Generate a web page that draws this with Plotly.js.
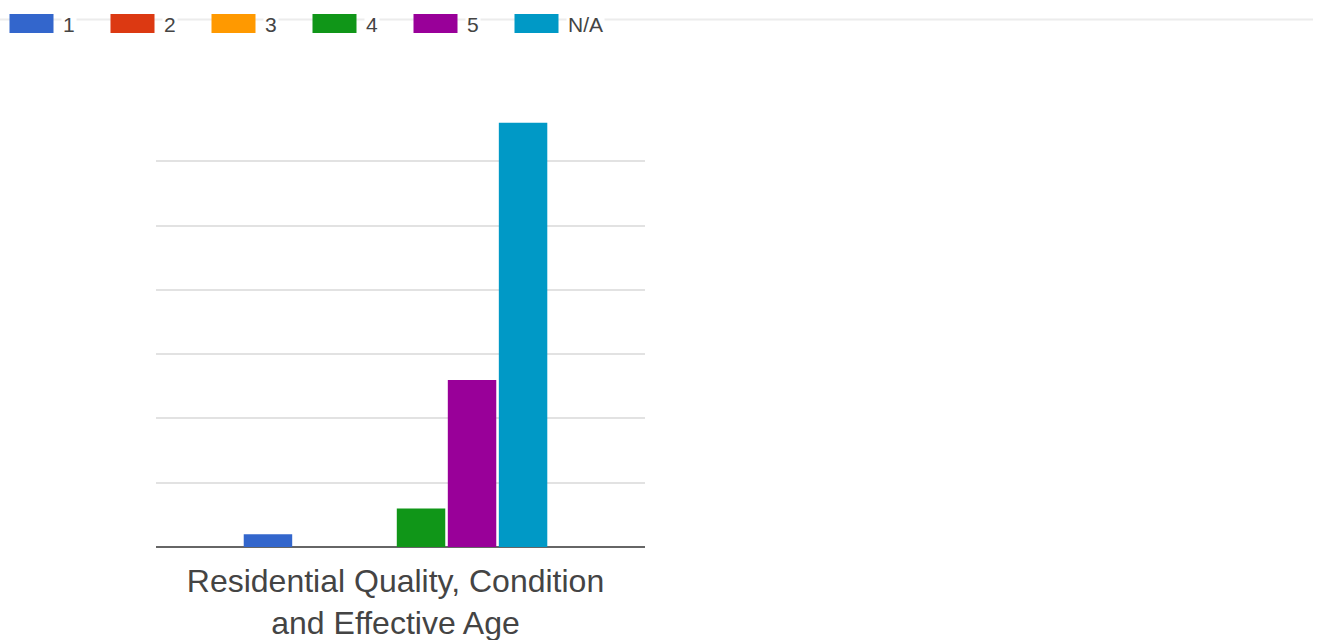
<!DOCTYPE html>
<html>
<head>
<meta charset="utf-8">
<script src="https://cdn.plot.ly/plotly-3.0.1.min.js"></script>
<style>html,body{margin:0;padding:0;background:#fff;}#chart{width:1324px;height:640px;}</style>
</head>
<body>
<div id="chart"></div>
<script>
// Data
const categories = ["Residential Quality, Condition<br>and Effective Age"];
const seriesNames = ["1", "2", "3", "4", "5", "N/A"];
const seriesValues = [[1], [0], [0], [3], [13], [33]];
const seriesColors = ["#3366cc", "#dc3912", "#ff9900", "#109618", "#990099", "#0099c6"];

const W = 1324, H = 640;
const M = {l: 156, r: 679, t: 110, b: 93};
const PW = W - M.l - M.r, PH = H - M.t - M.b;
const px = x => (x - M.l) / PW;
const py = y => (H - M.b - y) / PH;

const traces = seriesNames.map((n, i) => ({
  type: 'bar', name: n, x: categories, y: seriesValues[i],
  marker: {color: seriesColors[i], line: {width: 0}},
  hoverinfo: 'name+y'
}));

const shapes = [{
  type: 'line', xref: 'paper', yref: 'paper',
  x0: px(0), x1: px(1313), y0: py(19.5), y1: py(19.5),
  line: {color: '#ececec', width: 2}, layer: 'below'
}];
const annotations = [];
seriesNames.forEach((n, i) => {
  const x0 = 9.5 + 101 * i;
  shapes.push({
    type: 'rect', xref: 'paper', yref: 'paper',
    x0: px(x0), x1: px(x0 + 44), y0: py(33), y1: py(14),
    fillcolor: seriesColors[i], line: {width: 0}, layer: 'above'
  });
  annotations.push({
    xref: 'paper', yref: 'paper', x: px(x0 + 51), y: py(24.5),
    xanchor: 'left', yanchor: 'middle', text: n, showarrow: false,
    bgcolor: '#ffffff', borderpad: 1,
    font: {family: 'Liberation Sans, Arial, sans-serif', size: 21, color: '#444444'}
  });
});

const layout = {
  width: W, height: H,
  margin: M,
  paper_bgcolor: '#ffffff', plot_bgcolor: '#ffffff',
  showlegend: false,
  barmode: 'group', bargap: 0.374, bargroupgap: 0.05,
  font: {family: 'Liberation Sans, Arial, sans-serif', color: '#444444'},
  xaxis: {
    type: 'category', range: [-0.4898, 0.5102], showgrid: false, zeroline: false,
    showline: false, ticks: '', fixedrange: true, ticklabelstandoff: 12,
    tickfont: {family: 'Liberation Sans, Arial, sans-serif', size: 32, color: '#444444'}
  },
  yaxis: {
    range: [0, 34], dtick: 5, tick0: 0, showticklabels: false, ticks: '',
    gridcolor: '#e2e2e2', gridwidth: 2,
    zeroline: true, zerolinecolor: '#666666', zerolinewidth: 2, fixedrange: true
  },
  shapes: shapes,
  annotations: annotations
};

Plotly.newPlot('chart', traces, layout, {displayModeBar: false, staticPlot: true});
</script>
</body>
</html>
